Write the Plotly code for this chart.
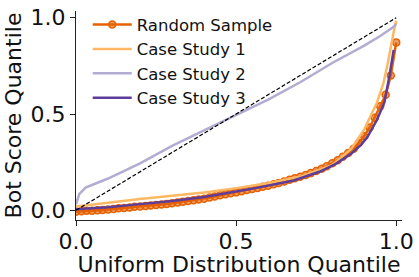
import plotly.graph_objects as go

# Uniform quantiles (x) and observed bot-score quantiles (y)
rs_x = [0.000, 0.017, 0.033, 0.050, 0.067, 0.083, 0.100, 0.117, 0.133, 0.150,
        0.167, 0.183, 0.200, 0.217, 0.233, 0.250, 0.267, 0.283, 0.300, 0.317,
        0.333, 0.350, 0.367, 0.383, 0.400, 0.417, 0.433, 0.450, 0.467, 0.483,
        0.500, 0.517, 0.533, 0.550, 0.567, 0.583, 0.600, 0.617, 0.633, 0.650,
        0.667, 0.683, 0.700, 0.717, 0.733, 0.750, 0.767, 0.783, 0.800, 0.817,
        0.833, 0.850, 0.867, 0.883, 0.900, 0.917, 0.933, 0.950, 0.967, 0.983,
        1.000]
rs_y = [-0.008, -0.005, -0.003, -0.002, 0.000, 0.002, 0.004, 0.007, 0.010, 0.012,
        0.015, 0.018, 0.020, 0.022, 0.025, 0.028, 0.030, 0.033, 0.036, 0.040,
        0.044, 0.048, 0.052, 0.056, 0.060, 0.066, 0.072, 0.078, 0.083, 0.088,
        0.093, 0.099, 0.105, 0.110, 0.116, 0.122, 0.128, 0.135, 0.142, 0.150,
        0.158, 0.166, 0.174, 0.183, 0.193, 0.204, 0.216, 0.229, 0.244, 0.260,
        0.278, 0.298, 0.320, 0.350, 0.385, 0.430, 0.480, 0.540, 0.600, 0.700,
        0.872]

cs1_x = [0.0, 0.1, 0.2, 0.3, 0.4, 0.5, 0.6, 0.7, 0.8, 0.86, 0.9, 0.92, 0.94,
         0.96, 0.973, 0.992, 1.0]
cs1_y = [0.020, 0.040, 0.058, 0.075, 0.092, 0.115, 0.140, 0.175, 0.235, 0.320,
         0.420, 0.490, 0.560, 0.660, 0.758, 0.926, 0.985]

cs2_x = [0.0, 0.01, 0.03, 0.1, 0.2, 0.3, 0.4, 0.5, 0.6, 0.7, 0.8, 0.9, 0.95,
         0.99, 1.0]
cs2_y = [0.030, 0.084, 0.118, 0.165, 0.244, 0.335, 0.415, 0.495, 0.575, 0.665,
         0.765, 0.855, 0.905, 0.950, 0.968]

cs3_x = [0.0, 0.04, 0.1, 0.2, 0.3, 0.4, 0.5, 0.56, 0.68, 0.76, 0.81, 0.86,
         0.89, 0.91, 0.94, 0.963, 0.979, 0.992]
cs3_y = [0.005, 0.008, 0.016, 0.032, 0.048, 0.069, 0.097, 0.115, 0.155, 0.200,
         0.240, 0.295, 0.340, 0.380, 0.470, 0.560, 0.700, 0.833]

diag = [0.0, 1.0]

x_ticks = [0.0, 0.5, 1.0]
y_ticks = [0.0, 0.5, 1.0]
tick_text = ["0.0", "0.5", "1.0"]

FONT = "DejaVu Sans"

fig = go.Figure()
fig.add_trace(go.Scatter(
    x=rs_x, y=rs_y, mode="lines+markers", name="Random Sample",
    line=dict(color="#e66101", width=2.5),
    marker=dict(symbol="circle", size=7, color="rgba(230,97,1,0.6)",
                line=dict(color="#e66101", width=1.5))))
fig.add_trace(go.Scatter(x=cs1_x, y=cs1_y, mode="lines", name="Case Study 1",
                         line=dict(color="#fdb863", width=2.5)))
fig.add_trace(go.Scatter(x=cs2_x, y=cs2_y, mode="lines", name="Case Study 2",
                         line=dict(color="#b2abd2", width=2.5)))
fig.add_trace(go.Scatter(x=cs3_x, y=cs3_y, mode="lines", name="Case Study 3",
                         line=dict(color="#5e3c99", width=2.5)))
fig.add_trace(go.Scatter(x=diag, y=diag, mode="lines", showlegend=False,
                         line=dict(color="black", width=1.2, dash="4px,2px")))

axis_common = dict(showgrid=False, zeroline=False, showline=True,
                   linecolor="#222222", linewidth=1.2, ticks="outside",
                   ticklen=5, tickwidth=1, tickcolor="#222222",
                   ticklabeloverflow="allow",
                   tickfont=dict(family=FONT, size=22, color="#111111"))

fig.update_layout(
    width=419, height=277,
    margin=dict(l=76, r=11, t=5, b=57),
    paper_bgcolor="white", plot_bgcolor="white",
    font=dict(family=FONT, color="#111111"),
    xaxis=dict(range=[0, 1.018], tickvals=x_ticks, ticktext=tick_text,
               ticklabelstandoff=-4,
               title=dict(text="Uniform Distribution Quantile",
                          font=dict(family=FONT, size=22), standoff=2),
               **axis_common),
    yaxis=dict(range=[-0.0505, 1.035], tickvals=y_ticks, ticktext=tick_text,
               title=dict(text="Bot Score Quantile",
                          font=dict(family=FONT, size=22), standoff=2),
               **axis_common),
    legend=dict(x=0.036, y=1.018, xanchor="left", yanchor="top",
                bgcolor="rgba(0,0,0,0)", font=dict(family=FONT, size=16.5),
                itemwidth=39, tracegroupgap=0),
    showlegend=True,
)

fig.write_html("out.html",
               config={"displayModeBar": False},
               post_script="document.body.style.margin='0';"
                           "document.body.style.padding='0';")
